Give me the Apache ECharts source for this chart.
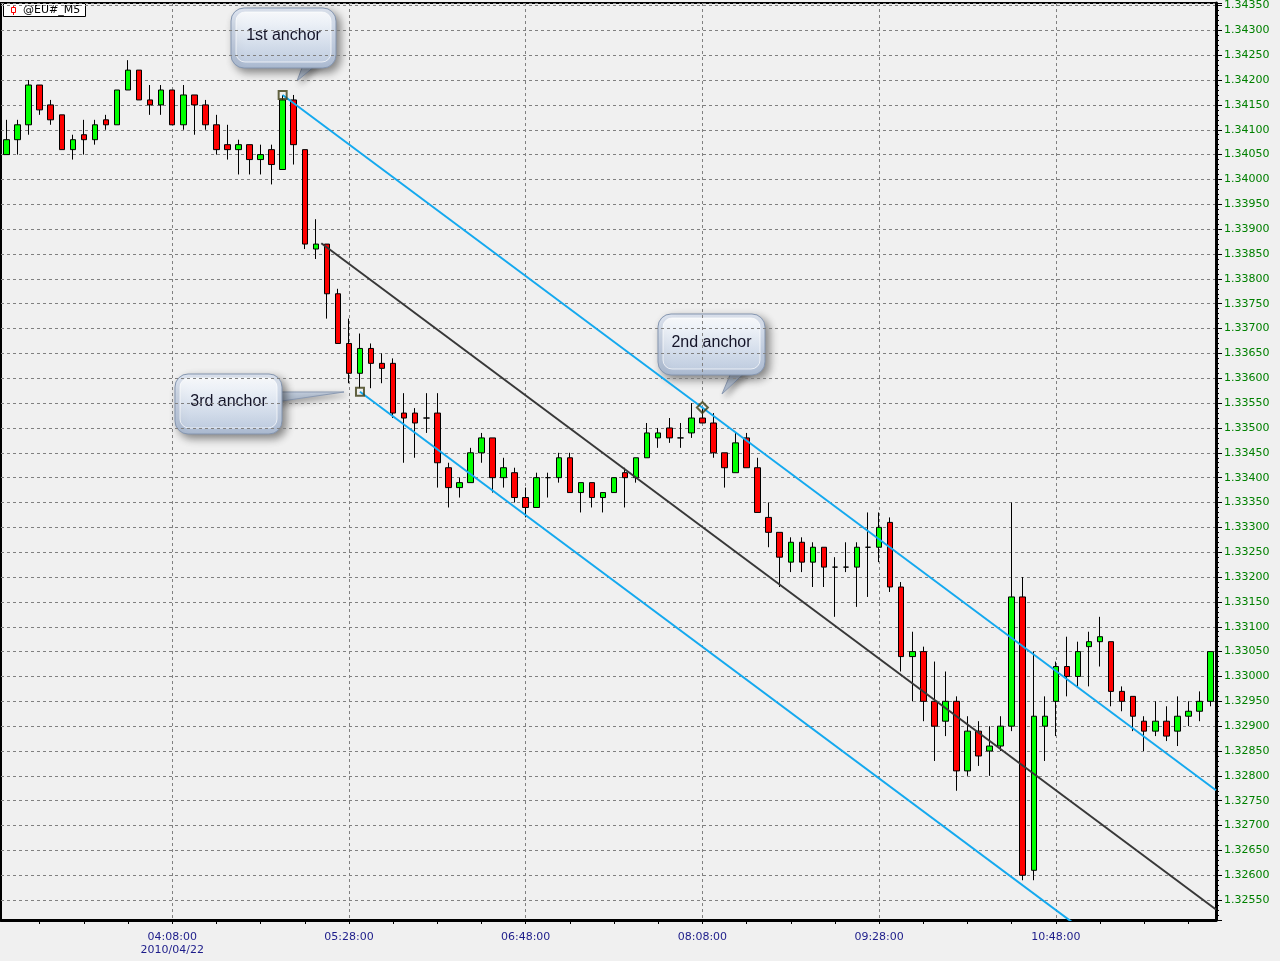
<!DOCTYPE html>
<html><head><meta charset="utf-8">
<script src="https://cdn.jsdelivr.net/npm/echarts@6/dist/echarts.min.js"></script>
<style>html,body{margin:0;padding:0;background:#f0f0f0}#c{width:1280px;height:961px}</style>
</head><body><div id="c"></div><script>
// ---- data ----
const times = [
 '02:53','02:58',
 '03:03','03:08','03:13','03:18','03:23','03:28','03:33','03:38','03:43','03:48','03:53','03:58',
 '04:03','04:08','04:13','04:18','04:23','04:28','04:33','04:38','04:43','04:48','04:53','04:58',
 '05:03','05:08','05:13','05:18','05:23','05:28','05:33','05:38','05:43','05:48','05:53','05:58',
 '06:03','06:08','06:13','06:18','06:23','06:28','06:33','06:38','06:43','06:48','06:53','06:58',
 '07:03','07:08','07:13','07:18','07:23','07:28','07:33','07:38','07:43','07:48','07:53','07:58',
 '08:03','08:08','08:13','08:18','08:23','08:28','08:33','08:38','08:43','08:48','08:53','08:58',
 '09:03','09:08','09:13','09:18','09:23','09:28','09:33','09:38','09:43','09:48','09:53','09:58',
 '10:03','10:08','10:13','10:18','10:23','10:28','10:33','10:38','10:43','10:48','10:53','10:58',
 '11:03','11:08','11:13','11:18','11:23','11:28','11:33','11:38','11:43','11:48','11:53','11:58'
];
const opens = [
 1.3405,1.3408,1.3411,1.3419,1.3415,1.3413,1.3406,1.3409,1.3408,1.3412,
 1.3411,1.3418,1.3422,1.3416,1.3415,1.3418,1.3411,1.3417,1.3415,1.3411,
 1.3407,1.3406,1.3407,1.3404,1.3406,1.3402,1.3416,1.3406,1.3386,1.3387,
 1.3377,1.3367,1.3361,1.3366,1.3363,1.3363,1.3353,1.3353,1.3352,1.3353,
 1.3342,1.3338,1.3339,1.3345,1.3348,1.3340,1.3341,1.3336,1.3334,1.3340,
 1.3340,1.3344,1.3337,1.3339,1.3336,1.3337,1.3341,1.3340,1.3344,1.3348,
 1.3350,1.3348,1.3349,1.3352,1.3351,1.3345,1.3341,1.3348,1.3342,1.3332,
 1.3329,1.3323,1.3327,1.3323,1.3326,1.3322,1.3322,1.3322,1.3326,1.3326,
 1.3331,1.3318,1.3304,1.3305,1.3295,1.3291,1.3295,1.3281,1.3289,1.3285,
 1.3286,1.3290,1.3316,1.3261,1.3290,1.3295,1.3302,1.3300,1.3306,1.3307,
 1.3307,1.3297,1.3296,1.3291,1.3289,1.3291,1.3289,1.3292,1.3293,1.3295
];
const closes = [
 1.3408,1.3411,1.3419,1.3414,1.3412,1.3406,1.3408,1.3408,1.3411,1.3411,
 1.3418,1.3422,1.3416,1.3415,1.3418,1.3411,1.3417,1.3415,1.3411,1.3406,
 1.3406,1.3407,1.3404,1.3405,1.3403,1.3416,1.3407,1.3387,1.3387,1.3377,
 1.3367,1.3361,1.3366,1.3363,1.3362,1.3353,1.3352,1.3351,1.3352,1.3343,
 1.3338,1.3339,1.3345,1.3348,1.3340,1.3342,1.3336,1.3334,1.3340,1.3340,
 1.3344,1.3337,1.3339,1.3336,1.3337,1.3340,1.3340,1.3344,1.3349,1.3349,
 1.3348,1.3348,1.3352,1.3351,1.3345,1.3342,1.3347,1.3342,1.3333,1.3329,
 1.3324,1.3327,1.3323,1.3326,1.3322,1.3322,1.3322,1.3326,1.3326,1.3330,
 1.3318,1.3304,1.3305,1.3295,1.3290,1.3295,1.3281,1.3289,1.3284,1.3286,
 1.3290,1.3316,1.3260,1.3292,1.3292,1.3302,1.3300,1.3305,1.3307,1.3308,
 1.3297,1.3295,1.3292,1.3289,1.3291,1.3288,1.3292,1.3293,1.3295,1.3305
];
const lows = [
 1.3405,1.3405,1.3409,1.3413,1.3411,1.3406,1.3404,1.3405,1.3407,1.3410,
 1.3411,1.3418,1.3416,1.3413,1.3413,1.3411,1.3410,1.3409,1.3410,1.3405,
 1.3404,1.3401,1.3401,1.3401,1.3399,1.3402,1.3403,1.3386,1.3384,1.3372,
 1.3367,1.3359,1.3358,1.3358,1.3359,1.3352,1.3343,1.3344,1.3349,1.3338,
 1.3334,1.3336,1.3339,1.3343,1.3337,1.3338,1.3335,1.3332,1.3334,1.3336,
 1.3339,1.3337,1.3333,1.3334,1.3333,1.3337,1.3334,1.3339,1.3344,1.3346,
 1.3347,1.3346,1.3348,1.3351,1.3344,1.3338,1.3341,1.3342,1.3333,1.3326,
 1.3318,1.3321,1.3321,1.3318,1.3318,1.3312,1.3321,1.3314,1.3316,1.3323,
 1.3317,1.3301,1.3295,1.3291,1.3283,1.3288,1.3277,1.3280,1.3282,1.3280,
 1.3285,1.3289,1.3259,1.3259,1.3283,1.3288,1.3296,1.3298,1.3298,1.3302,
 1.3294,1.3293,1.3289,1.3285,1.3288,1.3287,1.3286,1.3290,1.3291,1.3294
];
const highs = [
 1.3412,1.3412,1.3420,1.3419,1.3416,1.3413,1.3409,1.3412,1.3412,1.3413,
 1.3418,1.3424,1.3422,1.3419,1.3419,1.3418,1.3419,1.3417,1.3416,1.3413,
 1.3411,1.3408,1.3407,1.3407,1.3407,1.3417,1.3417,1.3406,1.3392,1.3387,
 1.3378,1.3372,1.3369,1.3367,1.3365,1.3364,1.3357,1.3354,1.3357,1.3357,
 1.3343,1.3340,1.3346,1.3349,1.3348,1.3344,1.3342,1.3338,1.3341,1.3341,
 1.3345,1.3345,1.3339,1.3339,1.3337,1.3340,1.3342,1.3344,1.3351,1.3350,
 1.3352,1.3351,1.3355,1.3354,1.3353,1.3345,1.3349,1.3349,1.3344,1.3335,
 1.3329,1.3328,1.3328,1.3327,1.3326,1.3324,1.3327,1.3327,1.3333,1.3333,
 1.3332,1.3319,1.3309,1.3306,1.3303,1.3301,1.3296,1.3292,1.3291,1.3290,
 1.3292,1.3335,1.3320,1.3305,1.3296,1.3303,1.3308,1.3307,1.3309,1.3312,
 1.3307,1.3298,1.3296,1.3292,1.3295,1.3294,1.3296,1.3295,1.3297,1.3305
];
// anchors: [candle index, price]
const anchor1 = [25, 1.34170];
const anchor2 = [63, 1.33541];
const anchor3 = [32, 1.33573];
// channel lines: [index, price] start/end
const upperLine  = [[25, 1.34170], [109.5, 1.32771]];
const lowerLine  = [[32, 1.33573], [109.5, 1.32290]];
const medianLine = [[28.5, 1.338715], [109.5, 1.32531]];
const symbolName = '@EU#_M5';
const dateLabel = '2010/04/22';
const bubbleTexts = ['1st anchor', '2nd anchor', '3rd anchor'];
const yMin = 1.32510, yMax = 1.34355, yStep = 0.0005;

// ---- chart ----
const candleData = opens.map((o, i) => [o, closes[i], lows[i], highs[i]]);
const chart = echarts.init(document.getElementById('c'), null, {renderer: 'canvas'});
const dash = {color: '#808080', width: 1, type: [3, 3]};
const labelFont = 'DejaVu Sans';

function grad(c1, c2) {
  return new echarts.graphic.LinearGradient(0, 0, 0, 1, [{offset: 0, color: c1}, {offset: 1, color: c2}]);
}
function bubble(x, y, w, h, text, tail) {
  return {
    type: 'group', z: 100, children: [
      {type: 'polygon', shape: {points: tail}, style: {fill: grad('#c9d4e4', '#aab8cc'), stroke: '#8b9ab2', lineWidth: 1,
        shadowBlur: 6, shadowOffsetX: 3, shadowOffsetY: 3, shadowColor: 'rgba(0,0,0,0.35)'}},
      {type: 'rect', shape: {x: x, y: y, width: w, height: h, r: 13},
        style: {fill: grad('#e2e9f4', '#adbcd3'), stroke: '#8596b0', lineWidth: 1,
          shadowBlur: 8, shadowOffsetX: 4, shadowOffsetY: 4, shadowColor: 'rgba(0,0,0,0.45)'}},
      {type: 'rect', shape: {x: x + 5, y: y + 4, width: w - 10, height: h - 10, r: 9},
        style: {fill: grad('rgba(255,255,255,0.8)', 'rgba(215,226,240,0.35)'), stroke: 'rgba(255,255,255,0.7)', lineWidth: 1}},
      {type: 'text', x: x + w / 2, y: y + h / 2 - 2,
        style: {text: text, font: '16px "Liberation Sans", Arial, sans-serif', fill: '#141428', align: 'center', verticalAlign: 'middle'}}
    ]
  };
}

const option = {
  backgroundColor: '#f0f0f0',
  animation: false,
  grid: {left: 1, top: 0, right: 64, bottom: 41, show: true, borderColor: '#000', borderWidth: 2, backgroundColor: '#f0f0f0'},
  xAxis: [{
    type: 'category', data: times, boundaryGap: true,
    axisLine: {show: true, onZero: false, lineStyle: {color: '#000', width: 3}},
    axisTick: {show: true, alignWithLabel: true, interval: (i) => i % 4 === 3, length: 4, lineStyle: {color: '#000', width: 1}},
    axisLabel: {
      interval: (i) => i % 16 === 15, margin: 11, color: '#1c1c8a', fontFamily: labelFont, fontSize: 11, lineHeight: 13,
      formatter: (v, i) => i === 15 ? v + ':00\n' + dateLabel : v + ':00'
    },
    splitLine: {show: true, alignWithLabel: true, interval: (i) => i % 16 === 15, lineStyle: dash}
  }, {
    type: 'value', min: -0.5, max: times.length - 0.5, show: false
  }],
  yAxis: {
    type: 'value', position: 'right', min: yMin, max: yMax, minInterval: yStep, maxInterval: yStep, splitNumber: 37,
    scale: true,
    axisLine: {show: true, onZero: false, lineStyle: {color: '#000', width: 3}},
    axisTick: {show: true, length: 6, lineStyle: {color: '#000', width: 1}},
    minorTick: {show: true, splitNumber: 5, length: 3, lineStyle: {color: '#000', width: 1}},
    axisLabel: {show: true, margin: 8, color: '#008000', fontFamily: labelFont, fontSize: 11,
      showMinLabel: false, showMaxLabel: false, formatter: (v) => v.toFixed(5)},
    splitLine: {show: true, lineStyle: dash}
  },
  series: [{
    type: 'candlestick', data: candleData, barWidth: 6, xAxisIndex: 0,
    itemStyle: {color: '#00ff00', color0: '#ff0000', borderColor: '#000', borderColor0: '#000', borderColorDoji: '#000', borderWidth: 1}
  }, {
    type: 'line', xAxisIndex: 1, data: upperLine, symbol: 'none', clip: true, z: 5,
    lineStyle: {color: '#14a9ef', width: 2}
  }, {
    type: 'line', xAxisIndex: 1, data: lowerLine, symbol: 'none', clip: true, z: 5,
    lineStyle: {color: '#14a9ef', width: 2}
  }, {
    type: 'line', xAxisIndex: 1, data: medianLine, symbol: 'none', clip: true, z: 5,
    lineStyle: {color: '#383838', width: 2}
  }, {
    type: 'scatter', xAxisIndex: 1, data: [anchor1, anchor3], symbol: 'rect', symbolSize: 8, z: 6,
    itemStyle: {color: 'rgba(0,0,0,0)', borderColor: '#3d3d14', borderWidth: 2}
  }, {
    type: 'scatter', xAxisIndex: 1, data: [anchor2], symbol: 'diamond', symbolSize: 11, z: 6,
    itemStyle: {color: 'rgba(0,0,0,0)', borderColor: '#3d3d14', borderWidth: 2}
  }],
  graphic: [
    {type: 'group', z: 100, children: [
      {type: 'rect', shape: {x: 3.5, y: 3.5, width: 82, height: 13}, style: {fill: '#ffffff', stroke: '#000', lineWidth: 1}},
      {type: 'line', shape: {x1: 13.5, y1: 5, x2: 13.5, y2: 15}, style: {stroke: '#ff0000', lineWidth: 1}},
      {type: 'rect', shape: {x: 11.5, y: 7.5, width: 4, height: 5}, style: {fill: '#ffffff', stroke: '#ff0000', lineWidth: 1}},
      {type: 'text', x: 23, y: 10, style: {text: symbolName, font: '11px "DejaVu Sans"', fill: '#000', verticalAlign: 'middle'}}
    ]},
    bubble(231, 8, 105, 60, bubbleTexts[0], [[305, 60], [322, 60], [297, 81]]),
    bubble(658, 314, 107, 61, bubbleTexts[1], [[733, 368], [750, 368], [722, 394]]),
    bubble(175, 374, 107, 60, bubbleTexts[2], [[275, 392], [275, 402], [344, 392]])
  ]
};
chart.setOption(option);
</script></body></html>
